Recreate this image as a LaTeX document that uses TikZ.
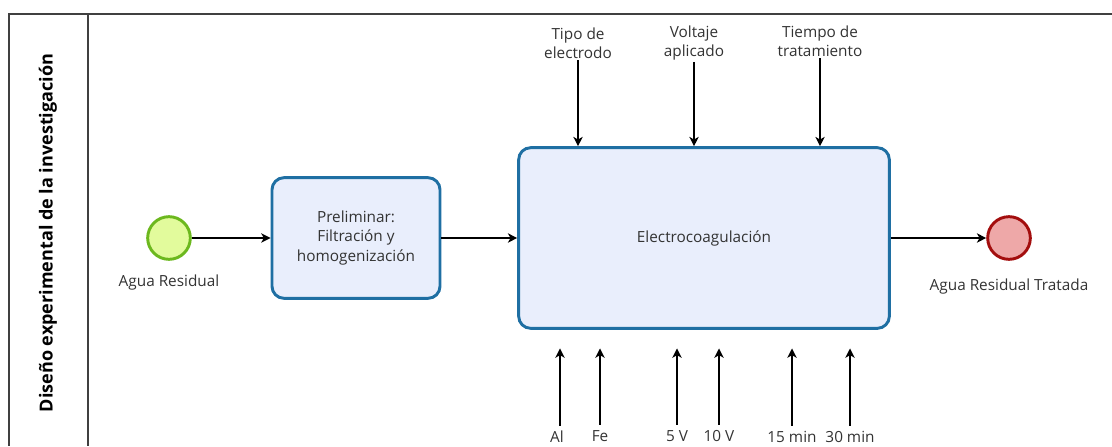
\documentclass[tikz,border=0pt]{standalone}
\usepackage{fontspec}
\setmainfont{Open Sans}
\usepackage{tikz}
\usetikzlibrary{arrows.meta,positioning,shapes.geometric}

\definecolor{taskfill}{HTML}{E9EEFC}
\definecolor{taskline}{HTML}{1F6FA3}
\definecolor{startfill}{HTML}{E2FB9C}
\definecolor{startline}{HTML}{6CB81E}
\definecolor{endfill}{HTML}{EEA8A8}
\definecolor{endline}{HTML}{A30E0E}
\definecolor{txt}{HTML}{333333}

\begin{document}
\begin{tikzpicture}[
			x=0.75pt, y=-0.75pt,
			>={Stealth[length=7pt,width=7pt,inset=2pt]},
			font=\fontsize{11.5}{14.5}\selectfont,
			task/.style={
				rectangle,
				rounded corners=9pt,
				draw=taskline,
				line width=2.2pt,
				fill=taskfill,
				text=txt,
				align=center
			},
			startev/.style={
				circle,
				draw=startline,
				line width=2.2pt,
				fill=startfill,
				minimum size=32pt
			},
			endev/.style={
				circle,
				draw=endline,
				line width=2.2pt,
				fill=endfill,
				minimum size=32pt
			},
			label/.style={
				text=txt,
				align=center,
				inner sep=1pt
			},
			flow/.style={
				->,
				line width=1pt,
				black
			}
			]
			\useasboundingbox (0,0) rectangle (1112,446);
			
			% the pool and its lane
			\draw [line width=1.4pt, draw=black!75] (1112,14) -- (9,14) -- (9,446);
			\draw [line width=1.2pt, draw=black!75] (88,14) -- (88,446);
			\node [rotate=90, font=\fontsize{13.5}{16}\selectfont\bfseries] (title) at (48,233)
			{Diseño experimental de la investigación};
			
			% We start by placing the blocks
			\node [startev] (start) at (169,238) {};
			\node [label, below=9pt of start] (startlbl) {Agua Residual};
			
			\node [task, minimum width=126pt, minimum height=90.5pt] (prelim) at (356,238)
			{Preliminar:\\Filtración y\\homogenización};
			
			\node [task, minimum width=278pt, minimum height=135.5pt] (electro) at (704,238)
			{Electrocoagulación};
			
			\node [endev] (finish) at (1009,238) {};
			\node [label, below=12pt of finish] (finishlbl) {Agua Residual Tratada};
			
			% factors above the main task
			\node [label] (tipo) at (578,43) {Tipo de\\electrodo};
			\node [label] (voltaje) at (694,43) {Voltaje\\aplicado};
			\node [label] (tiempo) at (820,41) {Tiempo de\\tratamiento};
			
			% levels below the main task
			\node [label] (al) at (557,437) {Al};
			\node [label] (fe) at (600,436) {Fe};
			\node [label] (v5) at (677,436) {5 V};
			\node [label] (v10) at (719,436) {10 V};
			\node [label] (m15) at (792,437) {15 min};
			\node [label] (m30) at (850,437) {30 min};
			
			% sequence flows
			\draw [flow] (start) -- (prelim);
			\draw [flow] (prelim) -- (electro);
			\draw [flow] (electro) -- (finish);
			
			\draw [flow] (tipo.south) -- (tipo.south |- electro.north);
			\draw [flow] (voltaje.south) -- (voltaje.south |- electro.north);
			\draw [flow] (tiempo.south) -- (tiempo.south |- electro.north);
			
			\foreach \lvl/\dx in {al/3, fe/0, v5/0, v10/0, m15/0, m30/0}
			\draw [flow, shorten <=3pt, shorten >=14pt] ([xshift=\dx*0.75pt]\lvl.north) -- ([xshift=\dx*0.75pt]\lvl.north |- electro.south);
			
			\end{tikzpicture}
\end{document}
